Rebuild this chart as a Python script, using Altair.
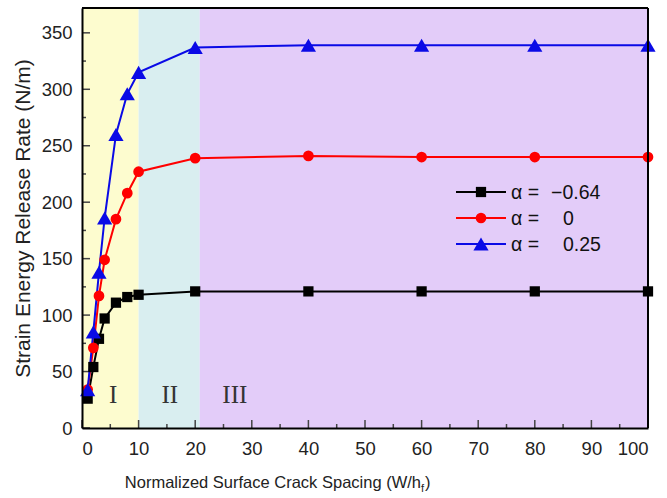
import altair as alt
import pandas as pd

# crack spacing W/h_f
spacing = [1, 2, 3, 4, 6, 8, 10, 20, 40, 60, 80, 100]
# strain energy release rate (N/m) for each alpha
g_neg064 = [26, 54, 79, 97, 111, 116, 118, 121, 121, 121, 121, 121]
g_zero = [34, 71, 117, 149, 185, 208, 227, 239, 241, 240, 240, 240]
g_pos025 = [34, 85, 138, 186, 260, 296, 315, 337, 339, 339, 339, 339]

series_names = ["α = −0.64", "α = 0", "α = 0.25"]
series_colors = ["#000000", "#ff0000", "#0a0ae6"]
series_shapes = ["square", "circle", "triangle-up"]
series_sizes = [105, 115, 230]
legend_values = ["−0.64", "0", "0.25"]

# crack regimes along the spacing axis
region_start = [0, 10, 20.8]
region_end = [10, 20.8, 100]
region_fill = ["#fdfccf", "#d9eef0", "#e3ccf9"]
region_label = ["I", "II", "III"]
region_label_x = [5.5, 15.5, 27]
region_label_y = [29, 29, 29]

x_major = list(range(0, 101, 10))
x_minor = list(range(5, 100, 10))
y_major = list(range(0, 351, 50))
y_minor = list(range(25, 351, 50))

W, H = 566, 420
XMAX, YMAX = 100, 372

series_values = [g_neg064, g_zero, g_pos025]
rows = []
for name, vals in zip(series_names, series_values):
    for s, g in zip(spacing, vals):
        rows.append({"spacing": s, "G": g, "series": name})
df = pd.DataFrame(rows)

xs = alt.Scale(domain=[0, XMAX], nice=False, zero=False)
ys = alt.Scale(domain=[0, YMAX], nice=False)
color = alt.Color("series:N", scale=alt.Scale(domain=series_names, range=series_colors), legend=None)

regions = alt.Chart(pd.DataFrame({"x0": region_start, "x1": region_end, "fill": region_fill})).mark_rect().encode(
    x=alt.X("x0:Q", scale=xs, axis=alt.Axis(
        values=x_major, grid=False, ticks=False, labelPadding=11, labelFontSize=18.5,
        labelColor="#222", labelFont="Liberation Sans", domainColor="black", domainWidth=2,
        title=None, zindex=1)),
    x2="x1:Q",
    y=alt.value(0), y2=alt.value(H),
    color=alt.Color("fill:N", scale=None),
)

yaxis_holder = alt.Chart(pd.DataFrame({"v": [0]})).mark_point(opacity=0).encode(
    y=alt.Y("v:Q", scale=ys, axis=alt.Axis(
        values=y_major, grid=False, ticks=False, labelPadding=10, labelFontSize=18.5,
        labelColor="#222", labelFont="Liberation Sans", domainColor="black", domainWidth=2,
        title="Strain Energy Release Rate (N/m)", titleFontSize=21, titleFont="Liberation Sans",
        titleFontWeight="normal", titleColor="#222", titlePadding=8, zindex=1)),
    x=alt.value(0),
)

def xticks(vals, length):
    return alt.Chart(pd.DataFrame({"t": vals})).mark_rule(color="#444", strokeWidth=1.5).encode(
        x=alt.X("t:Q", scale=xs), y=alt.value(H), y2=alt.value(H - length))

def yticks(vals, length):
    return alt.Chart(pd.DataFrame({"t": vals})).mark_rule(color="#444", strokeWidth=1.5).encode(
        y=alt.Y("t:Q", scale=ys), x=alt.value(0), x2=alt.value(length))

labels = alt.Chart(pd.DataFrame({"x": region_label_x, "y": region_label_y, "t": region_label})).mark_text(
    font="Liberation Serif", fontSize=25, color="#333").encode(
    x=alt.X("x:Q", scale=xs), y=alt.Y("y:Q", scale=ys), text="t:N")

lines = alt.Chart(df).mark_line(strokeWidth=2).encode(
    x=alt.X("spacing:Q", scale=xs), y=alt.Y("G:Q", scale=ys), color=color, detail="series:N")

# one marker layer per series so each gets its own shape and size
point_layers = []
for name, col, shp, sz in zip(series_names, series_colors, series_shapes, series_sizes):
    point_layers.append(
        alt.Chart(df[df["series"] == name]).mark_point(
            filled=True, opacity=1, shape=shp, size=sz, color=col).encode(
            x=alt.X("spacing:Q", scale=xs), y=alt.Y("G:Q", scale=ys)))

# frame on top and right
frame_top = alt.Chart(pd.DataFrame({"a": [0]})).mark_rule(color="black", strokeWidth=2).encode(
    x=alt.value(0), x2=alt.value(W), y=alt.value(0))
frame_right = alt.Chart(pd.DataFrame({"a": [0]})).mark_rule(color="black", strokeWidth=2).encode(
    x=alt.value(W), y=alt.value(0), y2=alt.value(H))

# legend box entries
leg_layers = []
leg_y = [184, 210, 236]
for i in range(3):
    d = pd.DataFrame({"val": [legend_values[i]]})
    base = alt.Chart(d)
    leg_layers.append(base.mark_rule(strokeWidth=2, color=series_colors[i]).encode(
        x=alt.value(374), x2=alt.value(424), y=alt.value(leg_y[i])))
    leg_layers.append(base.mark_point(filled=True, opacity=1, shape=series_shapes[i],
                                      size=series_sizes[i], color=series_colors[i]).encode(
        x=alt.value(399), y=alt.value(leg_y[i])))
    leg_layers.append(base.mark_text(align="left", baseline="middle", fontSize=19.5,
                                     font="Liberation Sans", color="#111").encode(
        x=alt.value(429), y=alt.value(leg_y[i] + 1), text=alt.value("α =")))
    leg_layers.append(base.mark_text(align="left", baseline="middle", fontSize=19.5,
                                     font="Liberation Sans", color="#111").encode(
        x=alt.value(469 if i == 0 else 481), y=alt.value(leg_y[i] + 1), text="val:N"))

# x axis title with subscript f
title_main = alt.Chart(pd.DataFrame({"a": [0]})).mark_text(
    align="right", baseline="alphabetic", fontSize=16.5, font="Liberation Sans", color="#222").encode(
    x=alt.value(339), y=alt.value(480), text=alt.value("Normalized Surface Crack Spacing (W/h"))
title_sub = alt.Chart(pd.DataFrame({"a": [0]})).mark_text(
    align="left", baseline="alphabetic", fontSize=11, font="Liberation Sans", color="#222").encode(
    x=alt.value(339), y=alt.value(484), text=alt.value("f"))
title_close = alt.Chart(pd.DataFrame({"a": [0]})).mark_text(
    align="left", baseline="alphabetic", fontSize=16.5, font="Liberation Sans", color="#222").encode(
    x=alt.value(343), y=alt.value(480), text=alt.value(")"))

chart = alt.layer(
    regions, yaxis_holder,
    xticks(x_major, 8), xticks(x_minor, 4), yticks(y_major, 8), yticks(y_minor, 4),
    labels, lines, *point_layers, frame_top, frame_right,
    *leg_layers, title_main, title_sub, title_close,
).properties(
    width=W, height=H,
    autosize=alt.AutoSizeParams(type="none"),
    padding={"left": 82, "top": 8, "right": 19, "bottom": 70},
).configure_view(stroke=None).configure(background="white")

chart.save("out.html", embed_options={"renderer": "svg", "actions": False})
